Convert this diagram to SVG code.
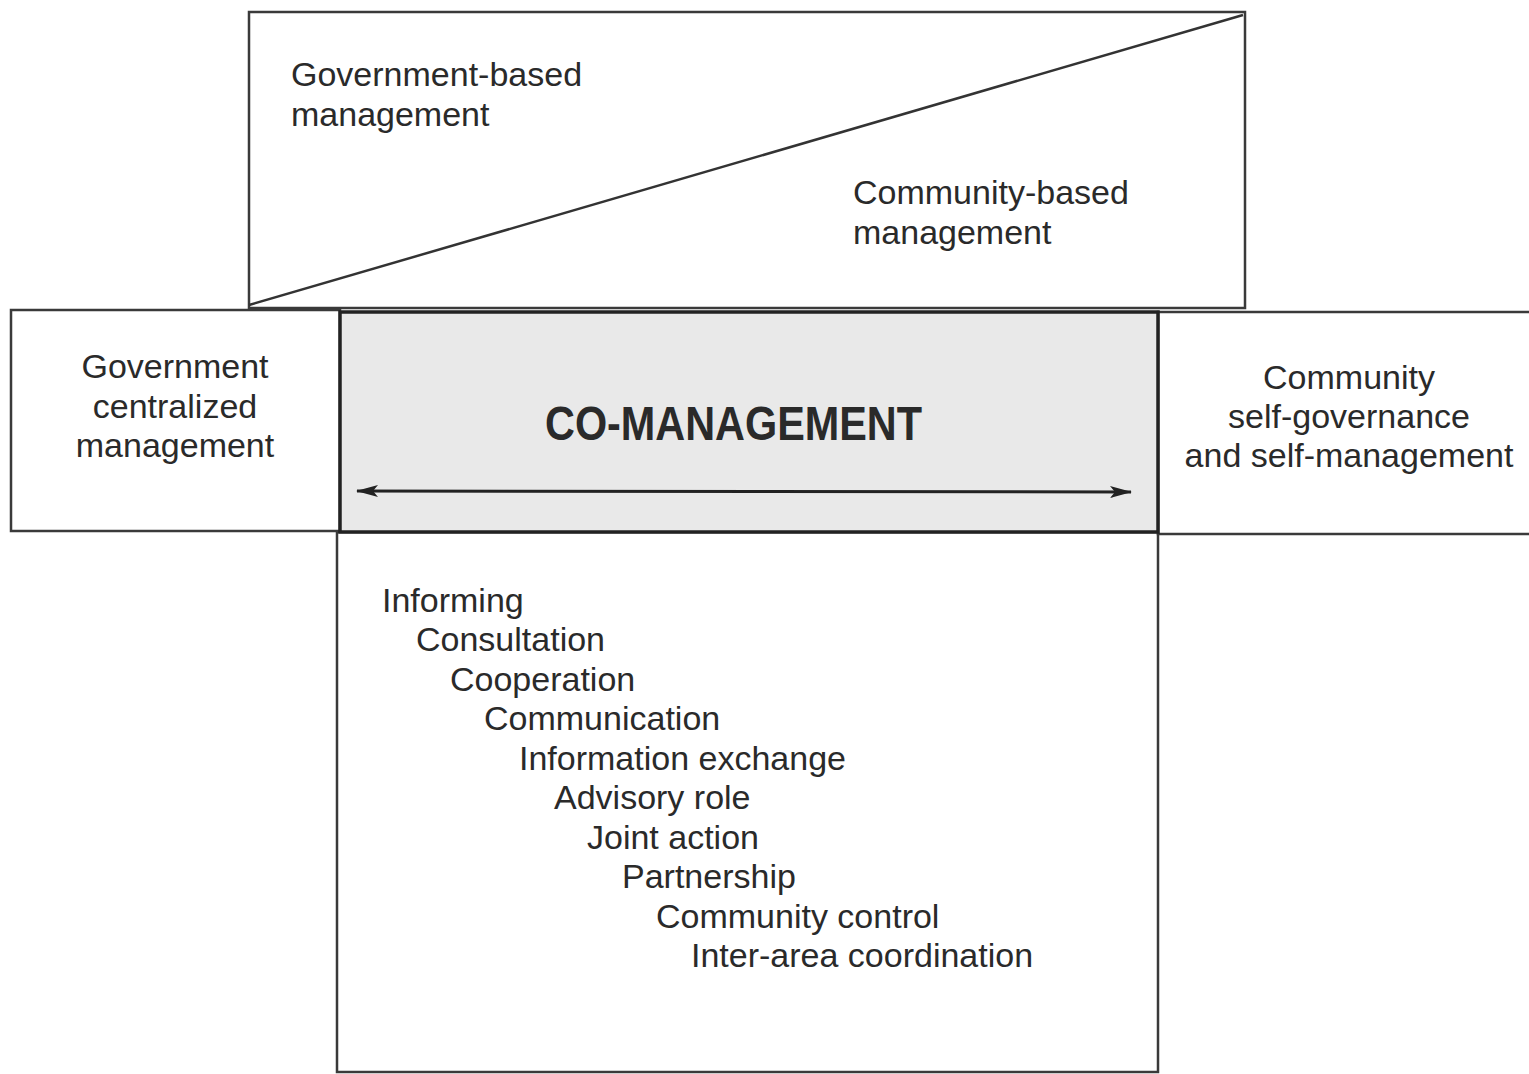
<svg xmlns="http://www.w3.org/2000/svg" width="1529" height="1074" viewBox="0 0 1529 1074">
<style>
.t{font-family:"Liberation Sans",Arial,sans-serif;font-size:34px;fill:#2a2a2a}
.c{text-anchor:middle}
.box{fill:#fff;stroke:#3a3a3a;stroke-width:2.5}
</style>
<defs>
<marker id="ah" markerWidth="22" markerHeight="14" refX="21" refY="7" orient="auto-start-reverse" markerUnits="userSpaceOnUse">
<path d="M0,1 L22,7 L0,13 L5,7 Z" fill="#222"/>
</marker>
</defs>
<rect width="1529" height="1074" fill="#fff"/>
<g id="top-box">
<rect class="box" x="249" y="12" width="996" height="296"/>
<line x1="249" y1="305" x2="1243" y2="15" stroke="#333" stroke-width="2.5"/>
<text class="t" x="291" y="86">Government-based</text>
<text class="t" x="291" y="126">management</text>
<text class="t" x="853" y="204">Community-based</text>
<text class="t" x="853" y="244">management</text>
</g>
<g id="bottom-box">
<rect class="box" x="337" y="532" width="821" height="540"/>
<text class="t" x="382" y="612">Informing</text>
<text class="t" x="416" y="651">Consultation</text>
<text class="t" x="450" y="691">Cooperation</text>
<text class="t" x="484" y="730">Communication</text>
<text class="t" x="519" y="770">Information exchange</text>
<text class="t" x="554" y="809">Advisory role</text>
<text class="t" x="587" y="849">Joint action</text>
<text class="t" x="622" y="888">Partnership</text>
<text class="t" x="656" y="928">Community control</text>
<text class="t" x="691" y="967">Inter-area coordination</text>
</g>
<g id="left-box">
<rect class="box" x="11" y="310" width="329" height="221"/>
<text class="t c" x="175" y="378">Government</text>
<text class="t c" x="175" y="418">centralized</text>
<text class="t c" x="175" y="457">management</text>
</g>
<g id="right-box">
<rect class="box" x="1158" y="312" width="380" height="222"/>
<text class="t c" x="1349" y="389">Community</text>
<text class="t c" x="1349" y="428">self-governance</text>
<text class="t c" x="1349" y="467">and self-management</text>
</g>
<g id="co-management">
<rect x="340" y="312" width="818" height="220" fill="#e9e9e9" stroke="#222" stroke-width="3.5"/>
<text x="545" y="440" textLength="377" lengthAdjust="spacingAndGlyphs" style="font-family:'Liberation Sans',Arial,sans-serif;font-size:49px;font-weight:bold;fill:#2a2a2a">CO-MANAGEMENT</text>
</g>
<g id="connectors">
<line x1="357" y1="491" x2="1131" y2="492" stroke="#222" stroke-width="3" marker-start="url(#ah)" marker-end="url(#ah)"/>
</g>
</svg>
